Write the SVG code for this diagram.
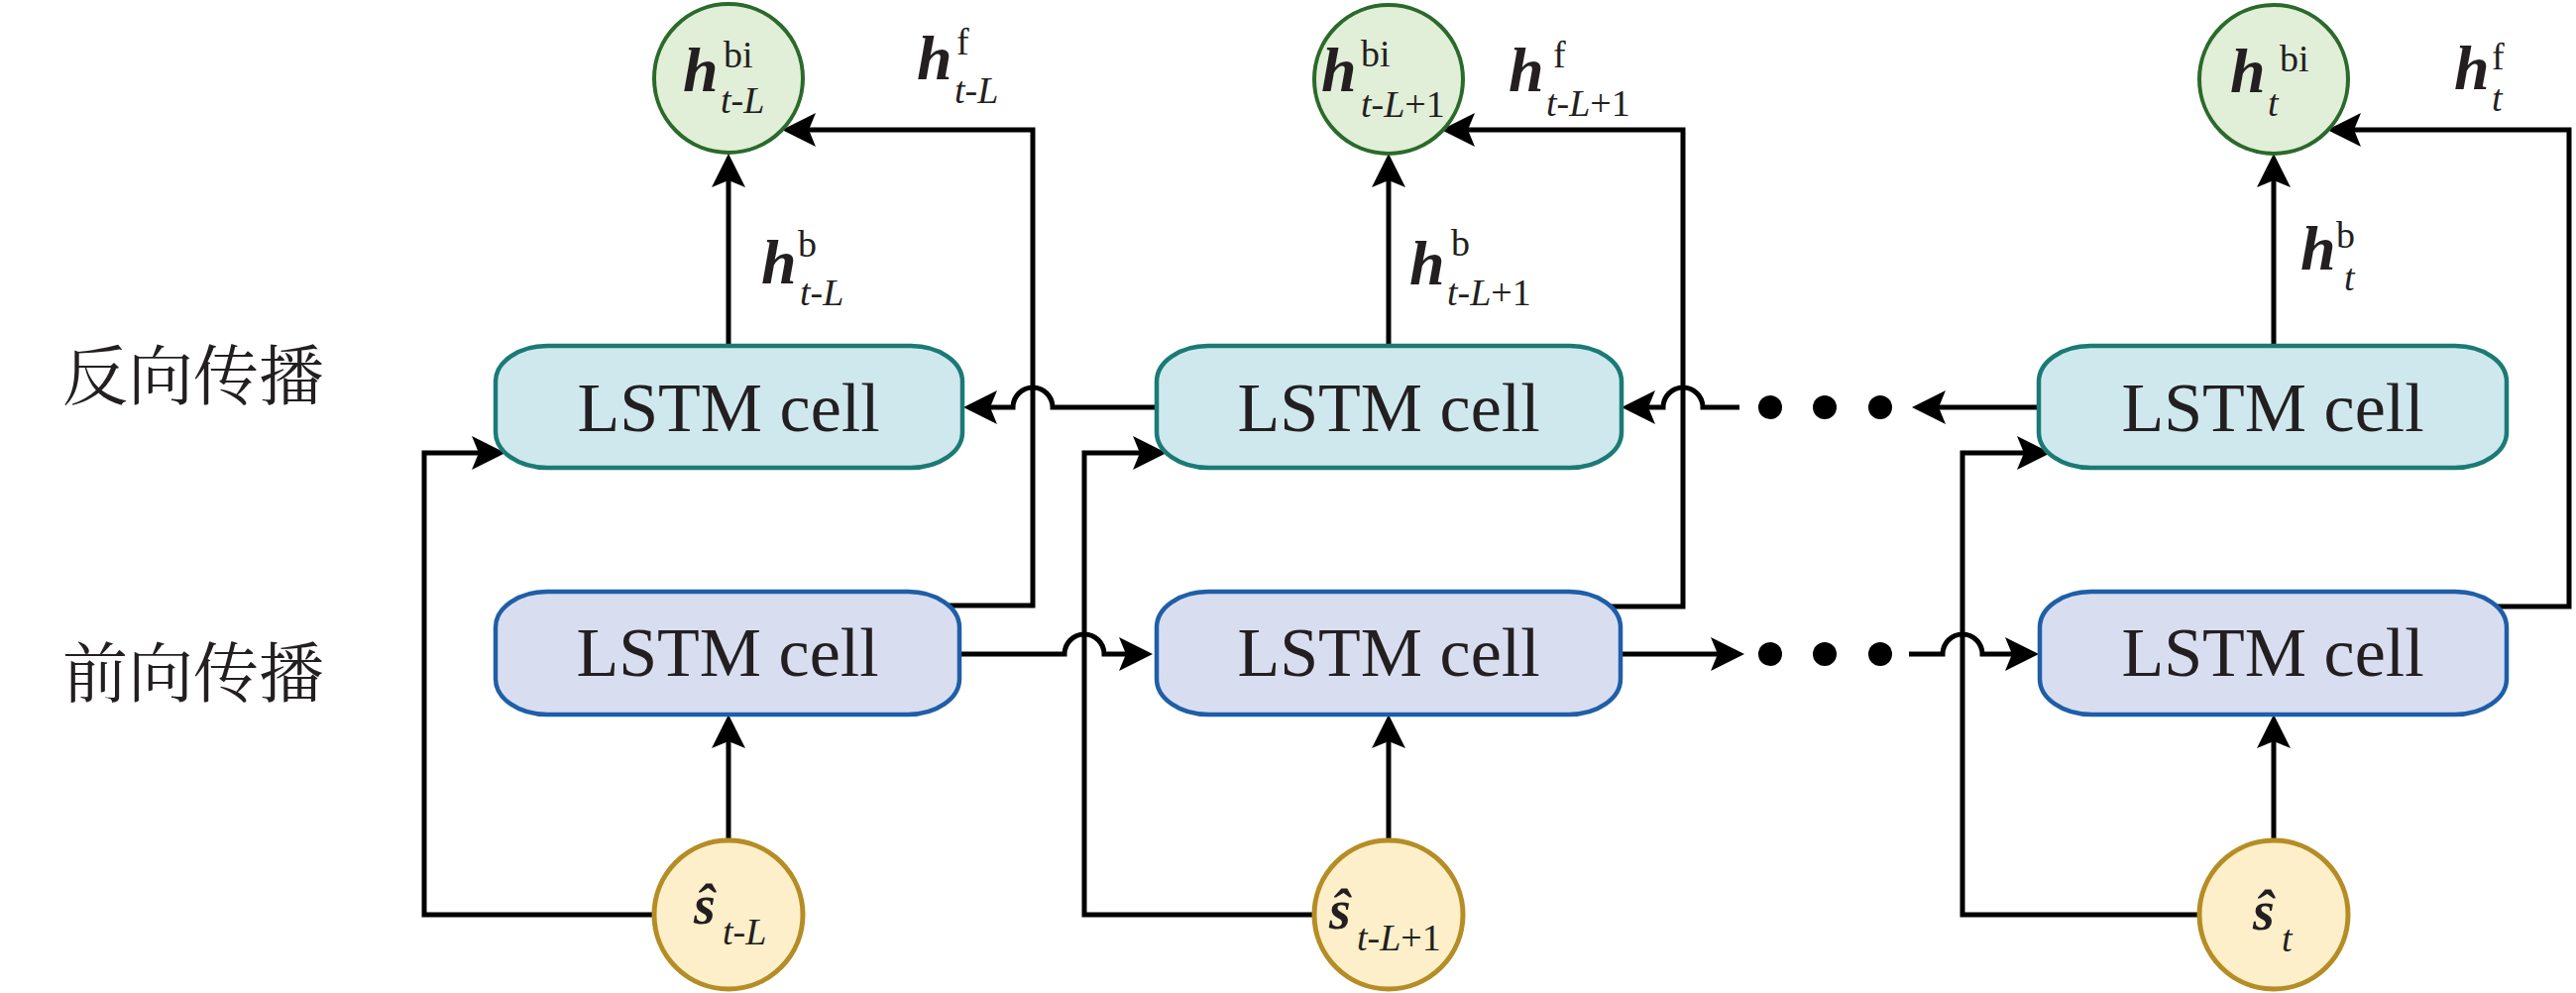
<svg xmlns="http://www.w3.org/2000/svg" width="2599" height="1002" viewBox="0 0 2599 1002">
<defs>
<style>
.bg{fill:#ffffff}
.conn{fill:none;stroke:#000;stroke-width:5;stroke-linejoin:miter}
.arr{marker-end:url(#ah)}
.dot{fill:#000}
.bw{fill:#cfe8ee;stroke:#1b7a76;stroke-width:4.5}
.fw{fill:#d8def0;stroke:#1f5ea8;stroke-width:4.5}
.gr{fill:#e1eed8;stroke:#2a6a2a;stroke-width:4}
.yl{fill:#fcefc9;stroke:#b58d25;stroke-width:5}
.cell{font-family:"Liberation Serif","Times New Roman",serif;font-size:70px;fill:#231f20;text-anchor:middle}
.cn{font-family:"Noto Serif CJK SC","Noto Sans CJK SC",sans-serif;font-size:66px;fill:#231f20}
.h{font-family:"Liberation Serif","Times New Roman",serif;font-size:64px;font-weight:bold;font-style:italic;fill:#231f20}
.s{font-family:"Liberation Serif","Times New Roman",serif;font-size:38px;fill:#231f20}
.sh{font-family:"Liberation Serif","Times New Roman",serif;font-size:56px;font-weight:bold;font-style:italic;fill:#231f20}
.i{font-style:italic}
</style>
<marker id="ah" viewBox="0 0 34 34" refX="24" refY="17" markerWidth="34" markerHeight="34" markerUnits="userSpaceOnUse" orient="auto">
<path d="M0,0 L34,17 L0,34 L7,17 Z" fill="#000"/>
</marker>
</defs>
<rect class="bg" x="0" y="0" width="2599" height="1002"/>

<g id="connectors">
<!-- h^b up arrows -->
<path class="conn arr" d="M735,352 V165"/>
<path class="conn arr" d="M1401,352 V165"/>
<path class="conn arr" d="M2294,352 V165"/>
<!-- input up arrows -->
<path class="conn arr" d="M735,850 V731"/>
<path class="conn arr" d="M1401,850 V731"/>
<path class="conn arr" d="M2294,850 V731"/>
<!-- inputs to backward cells -->
<path class="conn arr" d="M659,923 H428 V457 H500"/>
<path class="conn arr" d="M1326,923 H1094 V457 H1167"/>
<path class="conn arr" d="M2218,923 H1980 V457 H2059"/>
<!-- forward outputs to h^bi -->
<path class="conn arr" d="M950,611 H1042 V131 H799"/>
<path class="conn arr" d="M1615,612 H1698 V131 H1464"/>
<path class="conn arr" d="M2510,612 H2592 V131 H2358"/>
<!-- backward row -->
<path class="conn arr" d="M1170,411 H1062 A20,20 0 0 0 1022,411 H982"/>
<path class="conn arr" d="M2060,411 H1939"/>
<path class="conn arr" d="M1755,411 H1718 A20,20 0 0 0 1678,411 H1646"/>
<!-- forward row -->
<path class="conn arr" d="M960,660 H1074 A20,20 0 0 1 1114,660 H1153"/>
<path class="conn arr" d="M1630,660 H1750"/>
<path class="conn arr" d="M1926,660 H1960 A20,20 0 0 1 2000,660 H2047"/>
<!-- ellipsis dots -->
<circle class="dot" cx="1786" cy="411" r="12"/>
<circle class="dot" cx="1841" cy="411" r="12"/>
<circle class="dot" cx="1897" cy="411" r="12"/>
<circle class="dot" cx="1786" cy="660" r="12"/>
<circle class="dot" cx="1841" cy="660" r="12"/>
<circle class="dot" cx="1897" cy="660" r="12"/>
</g>

<g id="row-labels">
<text class="cn" x="63" y="403">反向传播</text>
<text class="cn" x="63" y="703">前向传播</text>
</g>

<g id="bw-cell-1"><rect class="bw" x="500" y="349" width="471" height="123" rx="52" ry="36"/><text class="cell" x="735" y="435">LSTM cell</text></g>
<g id="bw-cell-2"><rect class="bw" x="1167" y="349" width="469" height="123" rx="52" ry="36"/><text class="cell" x="1401" y="435">LSTM cell</text></g>
<g id="bw-cell-3"><rect class="bw" x="2057" y="349" width="472" height="123" rx="52" ry="36"/><text class="cell" x="2293" y="435">LSTM cell</text></g>

<g id="fw-cell-1"><rect class="fw" x="500" y="597" width="468" height="124" rx="52" ry="36"/><text class="cell" x="734" y="682">LSTM cell</text></g>
<g id="fw-cell-2"><rect class="fw" x="1167" y="597" width="468" height="124" rx="52" ry="36"/><text class="cell" x="1401" y="682">LSTM cell</text></g>
<g id="fw-cell-3"><rect class="fw" x="2058" y="597" width="471" height="124" rx="52" ry="36"/><text class="cell" x="2293" y="682">LSTM cell</text></g>

<g id="hbi-1"><circle class="gr" cx="735" cy="79" r="75"/>
<text class="h" x="689" y="92">h</text><text class="s" x="730" y="68">bi</text>
<text class="s" x="727" y="114"><tspan class="i">t</tspan>-<tspan class="i">L</tspan></text></g>
<g id="hbi-2"><circle class="gr" cx="1401" cy="80" r="75"/>
<text class="h" x="1333" y="92">h</text><text class="s" x="1373" y="67">bi</text>
<text class="s" x="1373" y="118"><tspan class="i">t</tspan>-<tspan class="i">L</tspan>+1</text></g>
<g id="hbi-3"><circle class="gr" cx="2294" cy="80" r="75"/>
<text class="h" x="2250" y="93">h</text><text class="s" x="2300" y="72">bi</text>
<text class="s i" x="2288" y="117">t</text></g>

<g id="s-1"><circle class="yl" cx="735" cy="923" r="75"/>
<text class="sh" x="700" y="932">ŝ</text>
<text class="s" x="729" y="953"><tspan class="i">t</tspan>-<tspan class="i">L</tspan></text></g>
<g id="s-2"><circle class="yl" cx="1401" cy="923" r="75"/>
<text class="sh" x="1341" y="937">ŝ</text>
<text class="s" x="1369" y="959"><tspan class="i">t</tspan>-<tspan class="i">L</tspan>+1</text></g>
<g id="s-3"><circle class="yl" cx="2294" cy="923" r="75"/>
<text class="sh" x="2273" y="938">ŝ</text>
<text class="s i" x="2302" y="960">t</text></g>

<g id="edge-labels">
<text class="h" x="925" y="80">h</text><text class="s" x="965" y="55">f</text>
<text class="s" x="963" y="104"><tspan class="i">t</tspan>-<tspan class="i">L</tspan></text>
<text class="h" x="768" y="286">h</text><text class="s" x="805" y="259">b</text>
<text class="s" x="807" y="308"><tspan class="i">t</tspan>-<tspan class="i">L</tspan></text>
<text class="h" x="1522" y="92">h</text><text class="s" x="1567" y="68">f</text>
<text class="s" x="1560" y="117"><tspan class="i">t</tspan>-<tspan class="i">L</tspan>+1</text>
<text class="h" x="1422" y="287">h</text><text class="s" x="1464" y="258">b</text>
<text class="s" x="1460" y="308"><tspan class="i">t</tspan>-<tspan class="i">L</tspan>+1</text>
<text class="h" x="2476" y="90">h</text><text class="s" x="2514" y="70">f</text>
<text class="s i" x="2514" y="112">t</text>
<text class="h" x="2321" y="272">h</text><text class="s" x="2357" y="250">b</text>
<text class="s i" x="2365" y="293">t</text>
</g>
</svg>
